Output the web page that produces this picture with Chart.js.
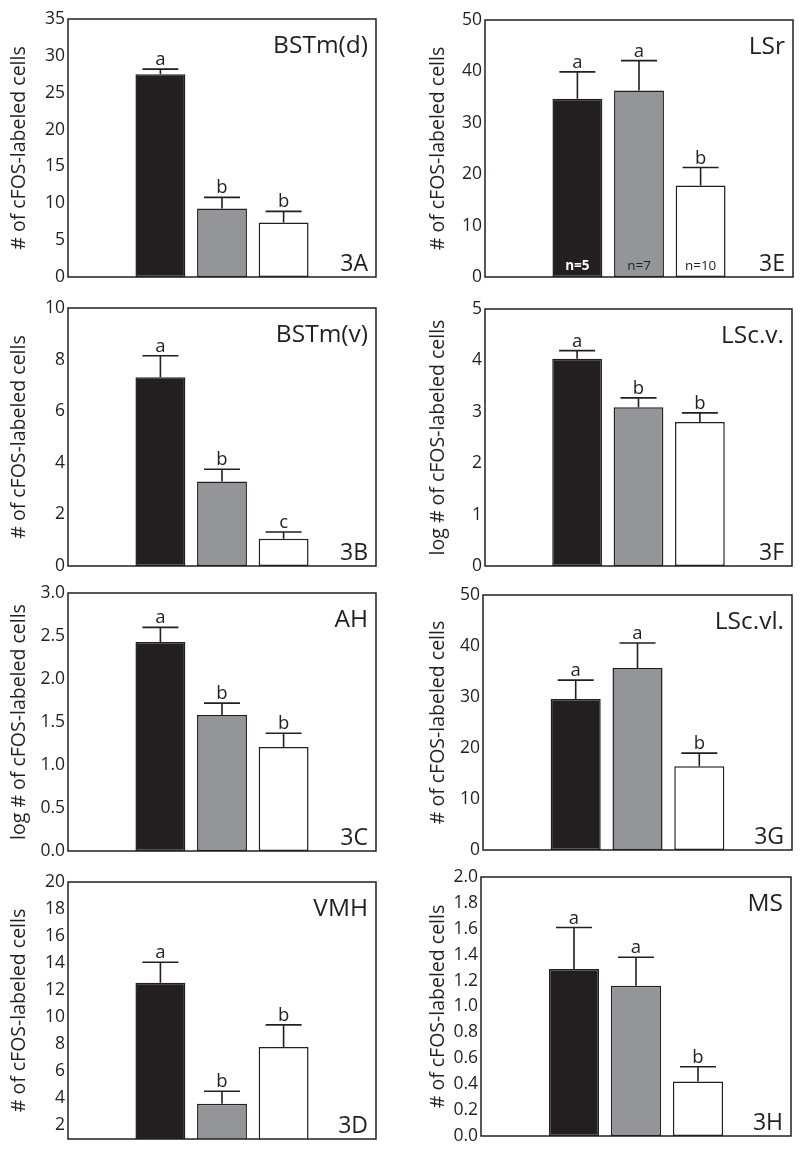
<!DOCTYPE html>
<html>
<head>
<meta charset="utf-8">
<script src="https://cdn.jsdelivr.net/npm/chart.js@4.4.1/dist/chart.umd.min.js"></script>
<style>
  body { margin: 0; background: #fff; }
  #wrap { position: relative; width: 800px; height: 1155px; }
  #wrap canvas { position: absolute; }
</style>
</head>
<body>
<div id="wrap"></div>
<script>
// groups (first and last slot are empty spacing)
const groups = ['', 'Group 1', 'Group 2', 'Group 3', ''];
const barColors = ['#ffffff', '#231f20', '#939598', '#ffffff', '#ffffff'];

const countTitle = '# of cFOS-labeled cells';
const logTitle = 'log # of cFOS-labeled cells';

// 3A BSTm(d)
const meanA = [27.5, 9.3, 7.4];
const semA = [0.7, 1.5, 1.5];
const letA = ['a', 'b', 'b'];
const ticksA = ['0', '5', '10', '15', '20', '25', '30', '35'];

// 3B BSTm(v)
const meanB = [7.32, 3.28, 1.06];
const semB = [0.83, 0.47, 0.26];
const letB = ['a', 'b', 'c'];
const ticksB = ['0', '2', '4', '6', '8', '10'];

// 3C AH
const meanC = [2.43, 1.58, 1.21];
const semC = [0.17, 0.14, 0.16];
const letC = ['a', 'b', 'b'];
const ticksC = ['0.0', '0.5', '1.0', '1.5', '2.0', '2.5', '3.0'];

// 3D VMH
const meanD = [12.55, 3.6, 7.8];
const semD = [1.52, 0.93, 1.64];
const letD = ['a', 'b', 'b'];
const ticksD = ['2', '4', '6', '8', '10', '12', '14', '16', '18', '20'];

// 3E LSr
const meanE = [34.7, 36.3, 17.8];
const semE = [5.2, 5.8, 3.5];
const letE = ['a', 'a', 'b'];
const nE = ['n=5', 'n=7', 'n=10'];
const ticksE = ['0', '10', '20', '30', '40', '50'];

// 3F LSc.v.
const meanF = [4.03, 3.09, 2.80];
const semF = [0.16, 0.18, 0.18];
const letF = ['a', 'b', 'b'];
const ticksF = ['0', '1', '2', '3', '4', '5'];

// 3G LSc.vl.
const meanG = [29.6, 35.7, 16.4];
const semG = [3.7, 4.9, 2.6];
const letG = ['a', 'a', 'b'];
const ticksG = ['0', '10', '20', '30', '40', '50'];

// 3H MS
const meanH = [1.29, 1.16, 0.42];
const semH = [0.32, 0.22, 0.115];
const letH = ['a', 'a', 'b'];
const ticksH = ['0.0', '0.2', '0.4', '0.6', '0.8', '1.0', '1.2', '1.4', '1.6', '1.8', '2.0'];

const ink = '#231f20';
const family = '"Open Sans", Lato, sans-serif';

// box = plot area in page pixels [left, top, right, bottom]
const panels = [
  { id: '3A', name: 'BSTm(d)', mean: meanA, sem: semA, letters: letA, ticks: ticksA, min: 0, max: 35, title: countTitle, box: [68, 19, 376, 277] },
  { id: '3B', name: 'BSTm(v)', mean: meanB, sem: semB, letters: letB, ticks: ticksB, min: 0, max: 10, title: countTitle, box: [68, 308, 376, 566] },
  { id: '3C', name: 'AH', mean: meanC, sem: semC, letters: letC, ticks: ticksC, min: 0, max: 3, title: logTitle, box: [68, 593, 376, 851] },
  { id: '3D', name: 'VMH', mean: meanD, sem: semD, letters: letD, ticks: ticksD, min: 1, max: 20, title: countTitle, box: [68, 882, 376, 1139] },
  { id: '3E', name: 'LSr', mean: meanE, sem: semE, letters: letE, ticks: ticksE, min: 0, max: 50, title: countTitle, box: [485, 20, 793, 277], n: nE },
  { id: '3F', name: 'LSc.v.', mean: meanF, sem: semF, letters: letF, ticks: ticksF, min: 0, max: 5, title: logTitle, box: [485, 309, 792, 566] },
  { id: '3G', name: 'LSc.vl.', mean: meanG, sem: semG, letters: letG, ticks: ticksG, min: 0, max: 50, title: countTitle, box: [483, 595, 792, 850] },
  { id: '3H', name: 'MS', mean: meanH, sem: semH, letters: letH, ticks: ticksH, min: 0, max: 2, title: countTitle, box: [481, 877, 791, 1136] }
];

function build() {
  const wrap = document.getElementById('wrap');
  panels.forEach(p => {
    const colLeft = p.box[0] < 400 ? 0 : 400;
    const padT = 16, padB = 16;
    const cv = document.createElement('canvas');
    cv.width = 400;
    cv.height = p.box[3] - p.box[1] + padT + padB;
    cv.style.left = colLeft + 'px';
    cv.style.top = (p.box[1] - padT) + 'px';
    wrap.appendChild(cv);

    const axisW = p.box[0] - colLeft;
    const titleFont = { family: family, size: 19.5 };

    const extras = {
      id: 'extras',
      afterDatasetsDraw(chart) {
        const ctx = chart.ctx;
        const a = chart.chartArea;
        const ys = chart.scales.y;
        const meta = chart.getDatasetMeta(0);
        ctx.save();
        ctx.strokeStyle = ink;
        ctx.fillStyle = ink;
        ctx.lineWidth = 1.6;
        // error bars + letters
        p.mean.forEach((m, i) => {
          const bar = meta.data[i + 1];
          const x = bar.x;
          const yTop = ys.getPixelForValue(m + p.sem[i]);
          ctx.beginPath();
          ctx.moveTo(x, bar.y);
          ctx.lineTo(x, yTop);
          ctx.moveTo(x - 18, yTop);
          ctx.lineTo(x + 18, yTop);
          ctx.stroke();
          ctx.font = '18.5px ' + family;
          ctx.textAlign = 'center';
          ctx.textBaseline = 'alphabetic';
          ctx.fillText(p.letters[i], x, yTop - 4);
        });
        // n labels
        if (p.n) {
          p.n.forEach((t, i) => {
            const bar = meta.data[i + 1];
            ctx.font = (i === 0 ? 'bold ' : '') + '13.5px ' + family;
            ctx.fillStyle = i === 0 ? '#ffffff' : ink;
            ctx.textAlign = 'center';
            ctx.fillText(t, bar.x, a.bottom - 7);
          });
          ctx.fillStyle = ink;
        }
        // frame
        ctx.lineWidth = 1.5;
        ctx.strokeRect(a.left, a.top, a.right - a.left, a.bottom - a.top);
        // region name and panel id
        ctx.font = '24.5px ' + family;
        ctx.textAlign = 'right';
        ctx.fillText(p.name, a.right - 8, a.top + 34);
        ctx.font = '23px ' + family;
        ctx.fillText(p.id, a.right - 8, a.bottom - 6);
        ctx.restore();
      }
    };

    new Chart(cv, {
      type: 'bar',
      data: {
        labels: groups,
        datasets: [{
          data: [null, ...p.mean, null],
          backgroundColor: barColors,
          borderColor: ink,
          borderWidth: 1.5,
          borderSkipped: false,
          categoryPercentage: 1,
          barPercentage: 0.81
        }]
      },
      options: {
        responsive: false,
        animation: false,
        layout: { padding: { top: padT, bottom: padB, left: 0, right: colLeft + 400 - p.box[2] } },
        plugins: { legend: { display: false }, tooltip: { enabled: false } },
        scales: {
          x: { display: false },
          y: {
            min: p.min,
            max: p.max,
            grid: { display: false, drawTicks: false },
            border: { display: false },
            afterBuildTicks: s => { s.ticks = p.ticks.map(t => ({ value: +t })); },
            afterFit: s => { s.width = axisW; },
            ticks: {
              color: ink,
              padding: 3,
              font: { family: family, size: 17.5 },
              callback: v => { const t = p.ticks.find(t => +t === v); return t === undefined ? '' : t; }
            },
            title: {
              display: true,
              text: p.title,
              color: ink,
              font: titleFont,
              padding: { top: colLeft ? 27 : 8, bottom: 0 }
            }
          }
        }
      },
      plugins: [extras]
    });
  });
}

document.fonts.load('16px "Open Sans"').then(build, build);
</script>
</body>
</html>
